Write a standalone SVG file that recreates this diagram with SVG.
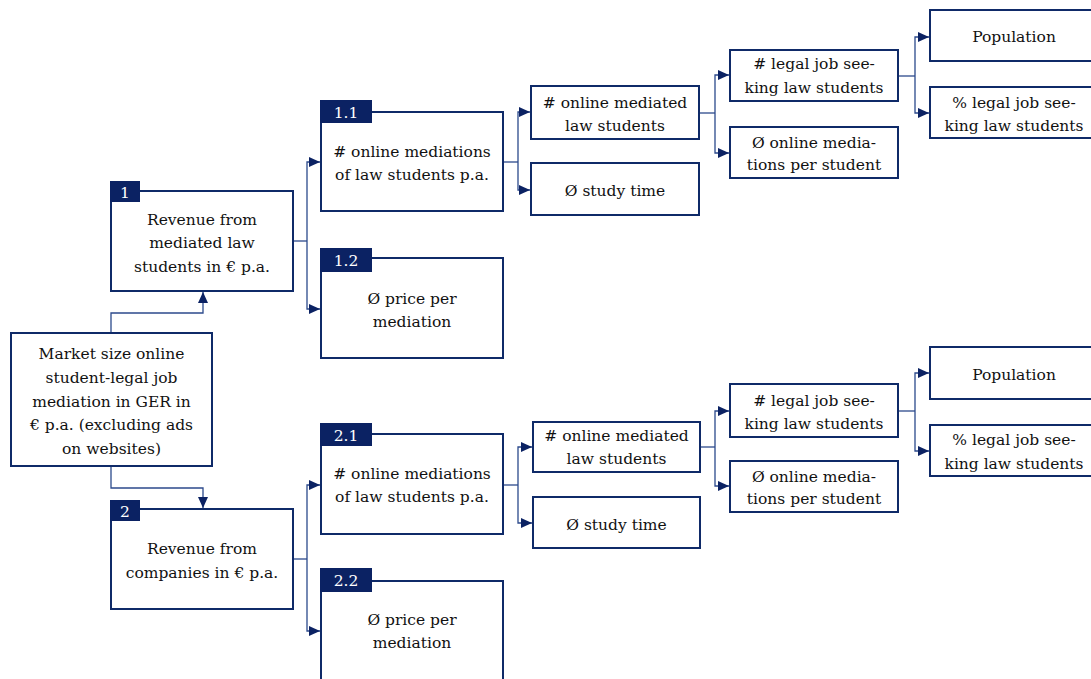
<svg xmlns="http://www.w3.org/2000/svg" width="1091" height="679" viewBox="0 0 1091 679">
  <style>
    .box { fill: #ffffff; stroke: #0f2a68; stroke-width: 2; }
    .tab { fill: #0b2263; }
    text { font-family: 'DejaVu Serif', 'Liberation Serif', serif; font-size: 15.5px; text-anchor: middle; }
    .txt { fill: #111111; }
    .tabtxt { fill: #ffffff; }
    .link { fill: none; stroke: #2c4a8c; stroke-width: 1.3; marker-end: url(#arrow); }
    .stub { fill: none; stroke: #2c4a8c; stroke-width: 1.3; }
  </style>
  <defs>
    <marker id="arrow" markerUnits="userSpaceOnUse" markerWidth="11" markerHeight="10" refX="11" refY="5" orient="auto">
      <path d="M0,0 L11,5 L0,10 z" fill="#0b2263"/>
    </marker>
  </defs>
  <rect width="1091" height="679" fill="#ffffff"/>

  <!-- connectors -->
  <g id="connectors">
    <!-- root to revenue branches -->
    <path class="link" d="M111,333 V313 H203 V292"/>
    <path class="link" d="M111,466 V488 H203 V508"/>
    <!-- revenue 1 to 1.1 / 1.2 -->
    <path class="stub" d="M293,241 H307"/>
    <path class="link" d="M307,241 V162 H320"/>
    <path class="link" d="M307,241 V309 H320"/>
    <!-- revenue 2 to 2.1 / 2.2 -->
    <path class="stub" d="M293,559 H307"/>
    <path class="link" d="M307,559 V485 H320"/>
    <path class="link" d="M307,559 V631 H320"/>
    <!-- 1.1 to level 3 -->
    <path class="stub" d="M503,162 H518"/>
    <path class="link" d="M518,162 V112 H530"/>
    <path class="link" d="M518,162 V190 H530"/>
    <!-- 2.1 to level 3 -->
    <path class="stub" d="M503,485 H518"/>
    <path class="link" d="M518,485 V447 H532"/>
    <path class="link" d="M518,485 V523 H532"/>
    <!-- mediated students (top) -->
    <path class="stub" d="M699,113 H715"/>
    <path class="link" d="M715,113 V75 H729"/>
    <path class="link" d="M715,113 V153 H729"/>
    <!-- mediated students (bottom) -->
    <path class="stub" d="M700,447 H715"/>
    <path class="link" d="M715,447 V411 H729"/>
    <path class="link" d="M715,447 V486 H729"/>
    <!-- job seekers (top) -->
    <path class="stub" d="M898,76 H915"/>
    <path class="link" d="M915,76 V37 H929"/>
    <path class="link" d="M915,76 V113 H929"/>
    <!-- job seekers (bottom) -->
    <path class="stub" d="M898,411 H915"/>
    <path class="link" d="M915,411 V373 H929"/>
    <path class="link" d="M915,411 V451 H929"/>
  </g>

  <!-- root -->
  <g id="root">
    <rect class="box" x="11" y="333" width="201" height="133"/>
    <text class="txt" x="111.5" y="359">Market size online</text>
    <text class="txt" x="111.5" y="383">student-legal job</text>
    <text class="txt" x="111.5" y="407">mediation in GER in</text>
    <text class="txt" x="111.5" y="430">€ p.a. (excluding ads</text>
    <text class="txt" x="111.5" y="454">on websites)</text>
  </g>

  <!-- revenue from students -->
  <g id="n1">
    <rect class="box" x="111" y="191" width="182" height="100"/>
    <rect class="tab" x="110" y="181" width="30" height="21"/>
    <text class="tabtxt" x="125" y="198">1</text>
    <text class="txt" x="202" y="225">Revenue from</text>
    <text class="txt" x="202" y="248">mediated law</text>
    <text class="txt" x="202" y="272">students in € p.a.</text>
  </g>

  <!-- revenue from companies -->
  <g id="n2">
    <rect class="box" x="111" y="509" width="182" height="100"/>
    <rect class="tab" x="110" y="500" width="30" height="21"/>
    <text class="tabtxt" x="125" y="517">2</text>
    <text class="txt" x="202" y="554">Revenue from</text>
    <text class="txt" x="202" y="578">companies in € p.a.</text>
  </g>

  <!-- 1.1 -->
  <g id="n1_1">
    <rect class="box" x="321" y="112" width="182" height="99"/>
    <rect class="tab" x="320" y="100" width="52" height="23"/>
    <text class="tabtxt" x="346" y="118">1.1</text>
    <text class="txt" x="412" y="157"># online mediations</text>
    <text class="txt" x="412" y="180">of law students p.a.</text>
  </g>

  <!-- 1.2 -->
  <g id="n1_2">
    <rect class="box" x="321" y="258" width="182" height="100"/>
    <rect class="tab" x="320" y="248" width="52" height="24"/>
    <text class="tabtxt" x="346" y="266">1.2</text>
    <text class="txt" x="412" y="304">Ø price per</text>
    <text class="txt" x="412" y="327">mediation</text>
  </g>

  <!-- 2.1 -->
  <g id="n2_1">
    <rect class="box" x="321" y="434" width="182" height="100"/>
    <rect class="tab" x="320" y="423" width="52" height="23"/>
    <text class="tabtxt" x="346" y="441">2.1</text>
    <text class="txt" x="412" y="479"># online mediations</text>
    <text class="txt" x="412" y="502">of law students p.a.</text>
  </g>

  <!-- 2.2 -->
  <g id="n2_2">
    <rect class="box" x="321" y="581" width="182" height="101"/>
    <rect class="tab" x="320" y="568" width="52" height="24"/>
    <text class="tabtxt" x="346" y="586">2.2</text>
    <text class="txt" x="412" y="625">Ø price per</text>
    <text class="txt" x="412" y="648">mediation</text>
  </g>

  <!-- level 3, upper tree -->
  <g id="n1_1_a">
    <rect class="box" x="531" y="86" width="168" height="53"/>
    <text class="txt" x="615" y="108"># online mediated</text>
    <text class="txt" x="615" y="131">law students</text>
  </g>
  <g id="n1_1_b">
    <rect class="box" x="531" y="163" width="168" height="52"/>
    <text class="txt" x="615" y="196">Ø study time</text>
  </g>

  <!-- level 3, lower tree -->
  <g id="n2_1_a">
    <rect class="box" x="533" y="422" width="167" height="50"/>
    <text class="txt" x="616.5" y="441"># online mediated</text>
    <text class="txt" x="616.5" y="464">law students</text>
  </g>
  <g id="n2_1_b">
    <rect class="box" x="533" y="497" width="167" height="51"/>
    <text class="txt" x="616.5" y="530">Ø study time</text>
  </g>

  <!-- level 4, upper tree -->
  <g id="n1_1_a_1">
    <rect class="box" x="730" y="50" width="168" height="51"/>
    <text class="txt" x="814" y="69"># legal job see-</text>
    <text class="txt" x="814" y="93">king law students</text>
  </g>
  <g id="n1_1_a_2">
    <rect class="box" x="730" y="127" width="168" height="51"/>
    <text class="txt" x="814" y="148">Ø online media-</text>
    <text class="txt" x="814" y="170">tions per student</text>
  </g>

  <!-- level 4, lower tree -->
  <g id="n2_1_a_1">
    <rect class="box" x="730" y="384" width="168" height="53"/>
    <text class="txt" x="814" y="406"># legal job see-</text>
    <text class="txt" x="814" y="429">king law students</text>
  </g>
  <g id="n2_1_a_2">
    <rect class="box" x="730" y="461" width="168" height="51"/>
    <text class="txt" x="814" y="482">Ø online media-</text>
    <text class="txt" x="814" y="504">tions per student</text>
  </g>

  <!-- level 5, upper tree -->
  <g id="n1_1_a_1_a">
    <rect class="box" x="930" y="10" width="168" height="51"/>
    <text class="txt" x="1014" y="42">Population</text>
  </g>
  <g id="n1_1_a_1_b">
    <rect class="box" x="930" y="87" width="168" height="51"/>
    <text class="txt" x="1014" y="108">% legal job see-</text>
    <text class="txt" x="1014" y="131">king law students</text>
  </g>

  <!-- level 5, lower tree -->
  <g id="n2_1_a_1_a">
    <rect class="box" x="930" y="347" width="168" height="52"/>
    <text class="txt" x="1014" y="380">Population</text>
  </g>
  <g id="n2_1_a_1_b">
    <rect class="box" x="930" y="425" width="168" height="51"/>
    <text class="txt" x="1014" y="445">% legal job see-</text>
    <text class="txt" x="1014" y="469">king law students</text>
  </g>
</svg>
